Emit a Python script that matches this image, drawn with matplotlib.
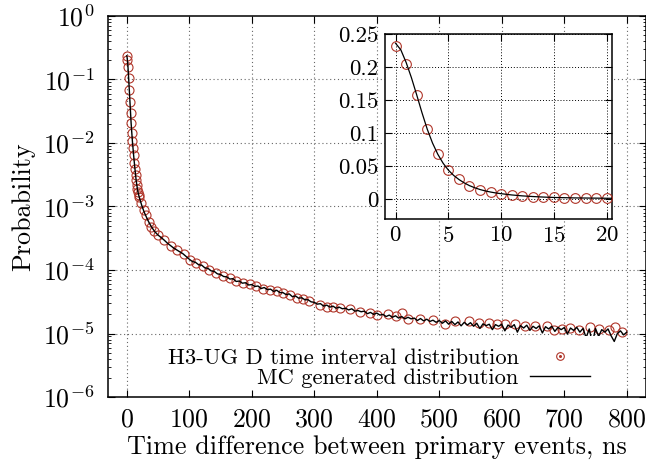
import numpy as np
import matplotlib
matplotlib.use("Agg")
import matplotlib.pyplot as plt
from matplotlib.lines import Line2D
from matplotlib.ticker import LogLocator, NullFormatter, FuncFormatter

# Measured time intervals (circles), ns and probability
circ_x = [0, 1, 2, 3, 4, 5, 6, 7, 8, 9, 10, 11, 12, 13, 14, 15, 16, 17, 18, 19, 20,
          23, 27, 30, 35, 39, 44, 50, 60, 70, 80, 92, 101, 111, 122, 132, 143, 154,
          165, 175, 186, 197, 207, 218, 229, 240, 250, 261, 272, 282, 292, 309, 320,
          330, 341, 357, 373, 389, 400, 418, 430, 441, 450, 469, 490, 509, 525, 547,
          563, 579, 592, 605, 621, 637, 653, 672, 683, 696, 709, 723, 741, 755, 771,
          781, 792]
circ_p = [0.232, 0.205, 0.157, 0.106, 0.068, 0.044, 0.0298, 0.0205, 0.0146, 0.0108,
          0.0083, 0.0064, 0.0049, 0.0039, 0.0031, 0.0026, 0.0022, 0.0019, 0.00168,
          0.00152, 0.00140,
          1.12e-3, 8.8e-4, 7.3e-4, 5.8e-4, 4.8e-4, 4.1e-4, 3.55e-4, 2.95e-4, 2.4e-4,
          2.07e-4, 1.77e-4, 1.44e-4, 1.27e-4, 1.16e-4, 1.0e-4, 8.9e-5, 8.1e-5,
          7.4e-5, 6.8e-5, 6.3e-5, 6.0e-5, 5.6e-5, 5.1e-5, 4.8e-5, 4.6e-5, 4.3e-5,
          4.0e-5, 3.6e-5, 3.47e-5, 3.24e-5, 2.82e-5, 2.57e-5, 2.6e-5, 2.5e-5,
          2.40e-5, 2.19e-5, 2.14e-5, 1.95e-5, 2.0e-5, 1.9e-5, 2.1e-5, 1.70e-5,
          1.70e-5, 1.62e-5, 1.41e-5, 1.58e-5, 1.55e-5, 1.45e-5, 1.48e-5, 1.41e-5,
          1.41e-5, 1.41e-5, 1.29e-5, 1.32e-5, 1.32e-5, 1.12e-5, 1.17e-5, 1.23e-5,
          1.15e-5, 1.26e-5, 1.17e-5, 1.12e-5, 1.26e-5, 1.05e-5]

# MC generated distribution, head part (fine steps)
mc_head_x = list(np.arange(0, 10.5, 0.5)) + list(range(11, 21)) + \
    [22, 24, 26, 28, 30, 33, 36, 40, 45] + list(range(50, 100, 5))
mc_head_p = [0.236, 0.226, 0.207, 0.184, 0.158, 0.131, 0.106, 0.085, 0.068, 0.0545,
             0.0440, 0.0360, 0.0298, 0.0247, 0.0205, 0.0173, 0.0146, 0.0125, 0.0108,
             0.0094, 0.0083,
             0.0064, 0.0050, 0.0040, 0.0032, 0.0026, 0.0022, 0.0019, 0.00168, 0.00152,
             0.00140,
             0.00120, 0.00104, 0.00092, 0.00081, 0.00073, 0.00063, 0.00055, 0.00047,
             0.00040,
             3.55e-4, 3.25e-4, 2.95e-4, 2.65e-4, 2.42e-4, 2.22e-4, 2.07e-4, 1.93e-4,
             1.80e-4, 1.63e-4]

# MC tail, every 5 ns from 100 to 800, in units of 1e-5
mc_tail_x = list(range(100, 805, 5))
mc_tail_p = [14.8, 13.6, 13.2, 12.1, 11.9, 10.8, 10.6, 9.7, 9.5, 8.7,
             8.5, 7.9, 7.8, 7.2, 7.3, 6.6, 6.7, 6.2, 6.3, 5.8,
             5.9, 5.5, 5.6, 5.1, 5.3, 4.9, 5.0, 4.6, 4.8, 4.4,
             4.4, 4.1, 4.2, 3.8, 3.9, 3.6, 3.65, 3.4, 3.4, 3.15,
             3.1, 2.9, 2.95, 2.7, 2.8, 2.6, 2.7, 2.5, 2.6, 2.45,
             2.5, 2.35, 2.45, 2.25, 2.3, 2.2, 2.25, 2.05, 2.15, 2.0,
             2.1, 1.95, 2.0, 1.85, 1.95, 1.8, 1.9, 1.75, 1.85, 1.7,
             1.8, 1.7, 1.75, 1.6, 1.72, 1.58, 1.68, 1.55, 1.62, 1.5,
             1.6, 1.45, 1.58, 1.4, 1.55, 1.38, 1.52, 1.32, 1.5, 1.36,
             1.48, 1.3, 1.45, 1.2, 1.42, 1.33, 1.4, 1.15, 1.38, 1.3,
             1.4, 1.1, 1.36, 1.25, 1.38, 1.05, 1.33, 1.22, 1.35, 1.12,
             1.3, 1.2, 1.32, 1.02, 1.28, 1.18, 1.3, 1.08, 1.25, 1.15,
             1.24, 0.98, 1.22, 1.12, 1.25, 1.05, 1.2, 0.86, 1.18, 0.7,
             1.2, 0.9, 1.15, 1.05, 1.18, 0.92, 0.75, 1.0, 1.1, 0.95,
             1.05]

mc_x = mc_head_x + mc_tail_x
mc_p = mc_head_p + list(np.array(mc_tail_p) * 1e-5)

red = "#b0362a"

plt.rcParams["font.family"] = "cmr10"
plt.rcParams["mathtext.fontset"] = "cm"
plt.rcParams["axes.formatter.use_mathtext"] = True
plt.rcParams["axes.unicode_minus"] = False

fig = plt.figure(figsize=(6.46, 4.67), dpi=100)
ax = fig.add_axes([108 / 646, 1 - 397 / 467, 537.5 / 646, 381 / 467])

ax.plot(circ_x, circ_p, "o", mfc="none", mec=red, ms=6.5, mew=0.8, zorder=3)
ax.plot(mc_x, mc_p, "-", color="k", lw=1.0, zorder=4)

ax.set_yscale("log")
ax.set_xlim(-30, 830)
ax.set_ylim(1e-6, 1)
ax.set_xticks(range(0, 801, 100))
ax.yaxis.set_major_locator(LogLocator(base=10, numticks=10))
ax.yaxis.set_minor_locator(LogLocator(base=10, subs=np.arange(2, 10), numticks=20))
ax.yaxis.set_minor_formatter(NullFormatter())
ax.tick_params(which="both", direction="in", top=True, right=True)
ax.tick_params(which="major", length=5, width=0.8, labelsize=18.6)
ax.tick_params(which="minor", length=2.5, width=0.6)
ax.tick_params(axis="y", which="major", pad=10)
ax.tick_params(axis="x", which="major", pad=8)
for s in ax.spines.values():
    s.set_linewidth(1.1)
    s.set_zorder(6)
ax.xaxis.set_zorder(6)
ax.yaxis.set_zorder(6)

# grid drawn by hand so the key box can hide it
grid_style = dict(linestyle=(0, (1, 2.5)), color="0.4", lw=0.8, zorder=1)
for t in ax.get_xticks():
    if ax.get_xlim()[0] < t < ax.get_xlim()[1]:
        ax.axvline(t, **grid_style)
for t in ax.get_yticks():
    if ax.get_ylim()[0] < t < ax.get_ylim()[1]:
        ax.axhline(t, **grid_style)

ax.set_xlabel("Time difference between primary events, ns", fontsize=18.8, labelpad=2)
ax.set_ylabel("Probability", fontsize=18.8, labelpad=5)

h_pts = (Line2D([], [], ls="none", marker="o", mfc="none", mec=red, ms=5.5, mew=0.8),
         Line2D([], [], ls="none", marker="o", color=red, ms=1.2))
h_line = Line2D([], [], color="k", lw=1.0)
leg = ax.legend([h_pts, h_line],
                ["H3-UG D time interval distribution", "MC generated distribution"],
                loc="center right", bbox_to_anchor=(0.919, 0.076), markerfirst=False,
                fontsize=16.2, frameon=True, fancybox=False, framealpha=1,
                edgecolor="none", facecolor="white", borderpad=0.55,
                handlelength=2.65, handletextpad=0.5, labelspacing=0.0,
                borderaxespad=0)
leg.set_zorder(5)

# inset with the first 20 ns on a linear scale
axin = fig.add_axes([385 / 646, 1 - 219 / 467, 227 / 646, 185 / 467])
axin.plot(circ_x[:21], circ_p[:21], "o", mfc="none", mec=red, ms=7, mew=0.8, zorder=3)
axin.plot(mc_x, mc_p, "-", color="k", lw=0.9, zorder=4)
axin.set_xlim(-1, 20.5)
axin.set_ylim(-0.03, 0.25)
axin.set_xticks([0, 5, 10, 15, 20])
axin.set_yticks([0, 0.05, 0.1, 0.15, 0.2, 0.25])
axin.yaxis.set_major_formatter(FuncFormatter(lambda v, p: "%g" % round(v, 3)))
axin.tick_params(direction="in", top=True, right=True, length=5, width=0.8,
                 labelsize=16.5, pad=5)
for s in axin.spines.values():
    s.set_linewidth(1.1)
axin.grid(True, linestyle=(0, (1, 2)), color="k", lw=0.7)

fig.savefig("out.png", dpi=100)
